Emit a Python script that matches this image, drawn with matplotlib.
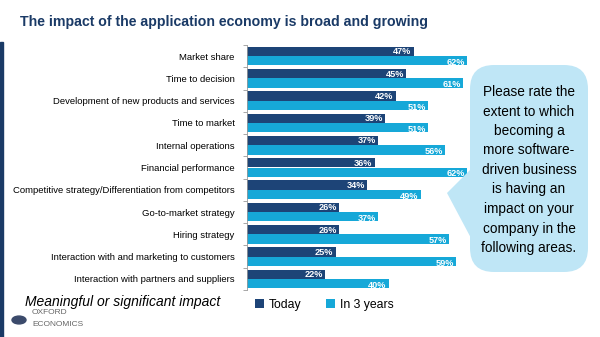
import matplotlib
matplotlib.use('Agg')
import matplotlib.pyplot as plt
from matplotlib.patches import FancyBboxPatch, Polygon, Rectangle, Circle
import numpy as np

#==============================================================================
# data
#==============================================================================
categories = ['Market share', 'Time to decision',
              'Development of new products and services', 'Time to market',
              'Internal operations', 'Financial performance',
              'Competitive strategy/Differentiation from competitors',
              'Go-to-market strategy', 'Hiring strategy',
              'Interaction with and marketing to customers',
              'Interaction with partners and suppliers']
today = [47, 45, 42, 39, 37, 36, 34, 26, 26, 25, 22]
in3years = [62, 61, 51, 51, 56, 62, 49, 37, 57, 59, 40]
series_names = ['Today', 'In 3 years']

dark = '#1d4477'
light = '#16a8d8'
navy = '#1a3a66'
plt.rcParams['font.family'] = ['Liberation Sans', 'DejaVu Sans']

W, H = 600, 337
fig = plt.figure(figsize=(6, 3.37), dpi=100)

def px(x, y):
    return x / W, 1 - y / H

#==============================================================================
# bars
#==============================================================================
ax = fig.add_axes([247 / W, 1 - 290 / H, 248 / W, 245 / H])
y = np.arange(len(categories))
h = 0.42
ax.barh(y - h / 2, today, height=h, color=dark, label=series_names[0])
ax.barh(y + h / 2, in3years, height=h, color=light, label=series_names[1])
ax.set_xlim(0, 70)
ax.set_ylim(len(categories) - 0.5, -0.5)

for i in range(len(categories)):
    ax.text(today[i] - 0.6, y[i] - h / 2 + 0.02, '%d%%' % today[i], color='white',
            fontsize=6.6, fontweight='bold', ha='right', va='center')
    ax.text(in3years[i] - 0.6, y[i] + h / 2 + 0.08, '%d%%' % in3years[i], color='white',
            fontsize=6.6, fontweight='bold', ha='right', va='center')

ax.set_yticks(y)
ax.set_yticklabels(categories, fontsize=6.8)
ax.tick_params(axis='y', which='major', length=0, pad=9)
ax.set_yticks(np.arange(-0.5, len(categories)), minor=True)
ax.tick_params(axis='y', which='minor', length=3, color='#999999', width=0.6)
ax.set_xticks([])
for s in ['top', 'right', 'bottom']:
    ax.spines[s].set_visible(False)
ax.spines['left'].set_color('#999999')
ax.spines['left'].set_linewidth(0.6)

handles, labels = ax.get_legend_handles_labels()
fig.legend(handles, labels, loc='center left', bbox_to_anchor=px(255, 305), ncol=2,
           frameon=False, fontsize=8.8, handlelength=0.75, handleheight=0.75,
           handletextpad=0.4, columnspacing=2.0, borderaxespad=0, borderpad=0)

#==============================================================================
# title, notes, decoration
#==============================================================================
fig.text(*px(20, 22), 'The impact of the application economy is broad and growing',
         fontsize=10.2, fontweight='bold', color=navy, va='center', ha='left')
fig.text(*px(25, 302), 'Meaningful or significant impact', fontsize=10,
         style='italic', va='center', ha='left', color='black')

fig.patches.append(Rectangle(px(0, 337), 3 / W, (337 - 42) / H, transform=fig.transFigure,
                             color=navy, zorder=0))

# callout
box = FancyBboxPatch(px(470, 272), 118 / W, 207 / H, boxstyle='round,pad=0,rounding_size=0.04',
                     transform=fig.transFigure, facecolor='#bfe6f6', edgecolor='none',
                     mutation_aspect=W / H)
fig.patches.append(box)
fig.patches.append(Polygon([px(472, 168), px(447, 193), px(472, 240)], closed=True,
                           transform=fig.transFigure, facecolor='#bfe6f6', edgecolor='none'))
note = ('Please rate the\nextent to which\nbecoming a\nmore software-\ndriven business\n'
        'is having an\nimpact on your\ncompany in the\nfollowing areas.')
fig.text(*px(529, 170), note, fontsize=9.8, ha='center', va='center', linespacing=1.5)

# logo
fig.patches.append(Circle(px(19, 320), 7 / W, transform=fig.transFigure, color='#3b4a6b'))
fig.text(*px(32, 312), 'OXFORD', fontsize=6, color='#666666', va='center', ha='left')
fig.text(*px(32, 324), 'ECONOMICS', fontsize=6, color='#666666', va='center', ha='left')

fig.savefig('out.png', dpi=100)
